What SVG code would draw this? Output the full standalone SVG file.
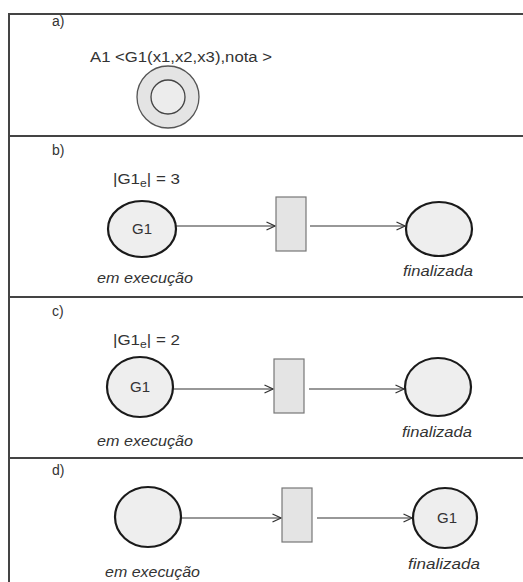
<svg xmlns="http://www.w3.org/2000/svg" width="523" height="582" viewBox="0 0 523 582">
<defs>
<marker id="arr" viewBox="0 0 10 10" refX="9.5" refY="5" markerWidth="10" markerHeight="10" markerUnits="userSpaceOnUse" orient="auto">
<path d="M1,1 L9.5,5 L1,9" fill="none" stroke="#333" stroke-width="1.3"/>
</marker>
</defs>
<style>
.frame{stroke:#444;stroke-width:2;fill:none}
.place{fill:#eeeeee;stroke:#1a1a1a;stroke-width:2.2}
.trans{fill:#e4e4e4;stroke:#777;stroke-width:1.2}
.arc{stroke:#333;stroke-width:1.2;fill:none;marker-end:url(#arr)}
.t{font-family:"Liberation Sans",Arial,sans-serif;font-size:14px;fill:#333}
.g{font-family:"Liberation Sans",Arial,sans-serif;font-size:15px;fill:#333;text-anchor:middle}
.it{font-family:"Liberation Sans",Arial,sans-serif;font-size:15px;font-style:italic;fill:#333}
</style>
<g id="frame">
<line class="frame" x1="9" y1="14" x2="523" y2="14"/>
<line class="frame" x1="9" y1="13" x2="9" y2="582"/>
<line class="frame" x1="9" y1="136" x2="523" y2="136"/>
<line class="frame" x1="9" y1="297" x2="523" y2="297"/>
<line class="frame" x1="9" y1="458" x2="523" y2="458"/>
</g>
<g id="labels">
<text class="t" x="52" y="26">a)</text>
<text class="t" x="52" y="155">b)</text>
<text class="t" x="52" y="316">c)</text>
<text class="t" x="52" y="475">d)</text>
</g>
<g id="a-token">
<text class="t" x="90" y="62" textLength="182" lengthAdjust="spacingAndGlyphs">A1 &lt;G1(x1,x2,x3),nota &gt;</text>
<circle cx="168" cy="97" r="31" fill="#e4e4e4" stroke="#555" stroke-width="1.3"/>
<circle cx="168" cy="97" r="17" fill="#ececec" stroke="#444" stroke-width="1.3"/>
</g>
<g id="connectors">
<line class="arc" x1="176" y1="226" x2="275" y2="226"/>
<line class="arc" x1="310" y1="226" x2="405" y2="226"/>
<line class="arc" x1="173" y1="389" x2="273" y2="389"/>
<line class="arc" x1="309" y1="389" x2="404" y2="389"/>
<line class="arc" x1="181" y1="518" x2="281" y2="518"/>
<line class="arc" x1="317" y1="518" x2="412" y2="518"/>
</g>
<g id="b-exec">
<text class="t" x="113" y="184" textLength="67" lengthAdjust="spacingAndGlyphs">|G1<tspan font-size="10" dy="3">e</tspan><tspan dy="-3">| = 3</tspan></text>
<ellipse class="place" cx="142" cy="229" rx="34" ry="28"/>
<text class="g" x="142" y="234">G1</text>
<text class="it" x="97" y="283" textLength="96" lengthAdjust="spacingAndGlyphs">em execução</text>
</g>
<g id="b-trans"><rect class="trans" x="276" y="197" width="30" height="54"/></g>
<g id="b-fin">
<ellipse class="place" cx="439" cy="229" rx="33" ry="27"/>
<text class="it" x="403" y="276" textLength="70" lengthAdjust="spacingAndGlyphs">finalizada</text>
</g>
<g id="c-exec">
<text class="t" x="113" y="345" textLength="67" lengthAdjust="spacingAndGlyphs">|G1<tspan font-size="10" dy="3">e</tspan><tspan dy="-3">| = 2</tspan></text>
<ellipse class="place" cx="140" cy="387" rx="33" ry="30"/>
<text class="g" x="140" y="392">G1</text>
<text class="it" x="97" y="446" textLength="96" lengthAdjust="spacingAndGlyphs">em execução</text>
</g>
<g id="c-trans"><rect class="trans" x="274" y="359" width="30" height="54"/></g>
<g id="c-fin">
<ellipse class="place" cx="438" cy="387" rx="33" ry="29"/>
<text class="it" x="402" y="437" textLength="70" lengthAdjust="spacingAndGlyphs">finalizada</text>
</g>
<g id="d-exec">
<ellipse class="place" cx="148" cy="517" rx="33" ry="30"/>
<text class="it" x="105" y="577" textLength="95" lengthAdjust="spacingAndGlyphs">em execução</text>
</g>
<g id="d-trans"><rect class="trans" x="282" y="488" width="30" height="54"/></g>
<g id="d-fin">
<ellipse class="place" cx="445" cy="518" rx="32" ry="30"/>
<text class="g" x="447" y="523">G1</text>
<text class="it" x="408" y="569" textLength="72" lengthAdjust="spacingAndGlyphs">finalizada</text>
</g>
</svg>
